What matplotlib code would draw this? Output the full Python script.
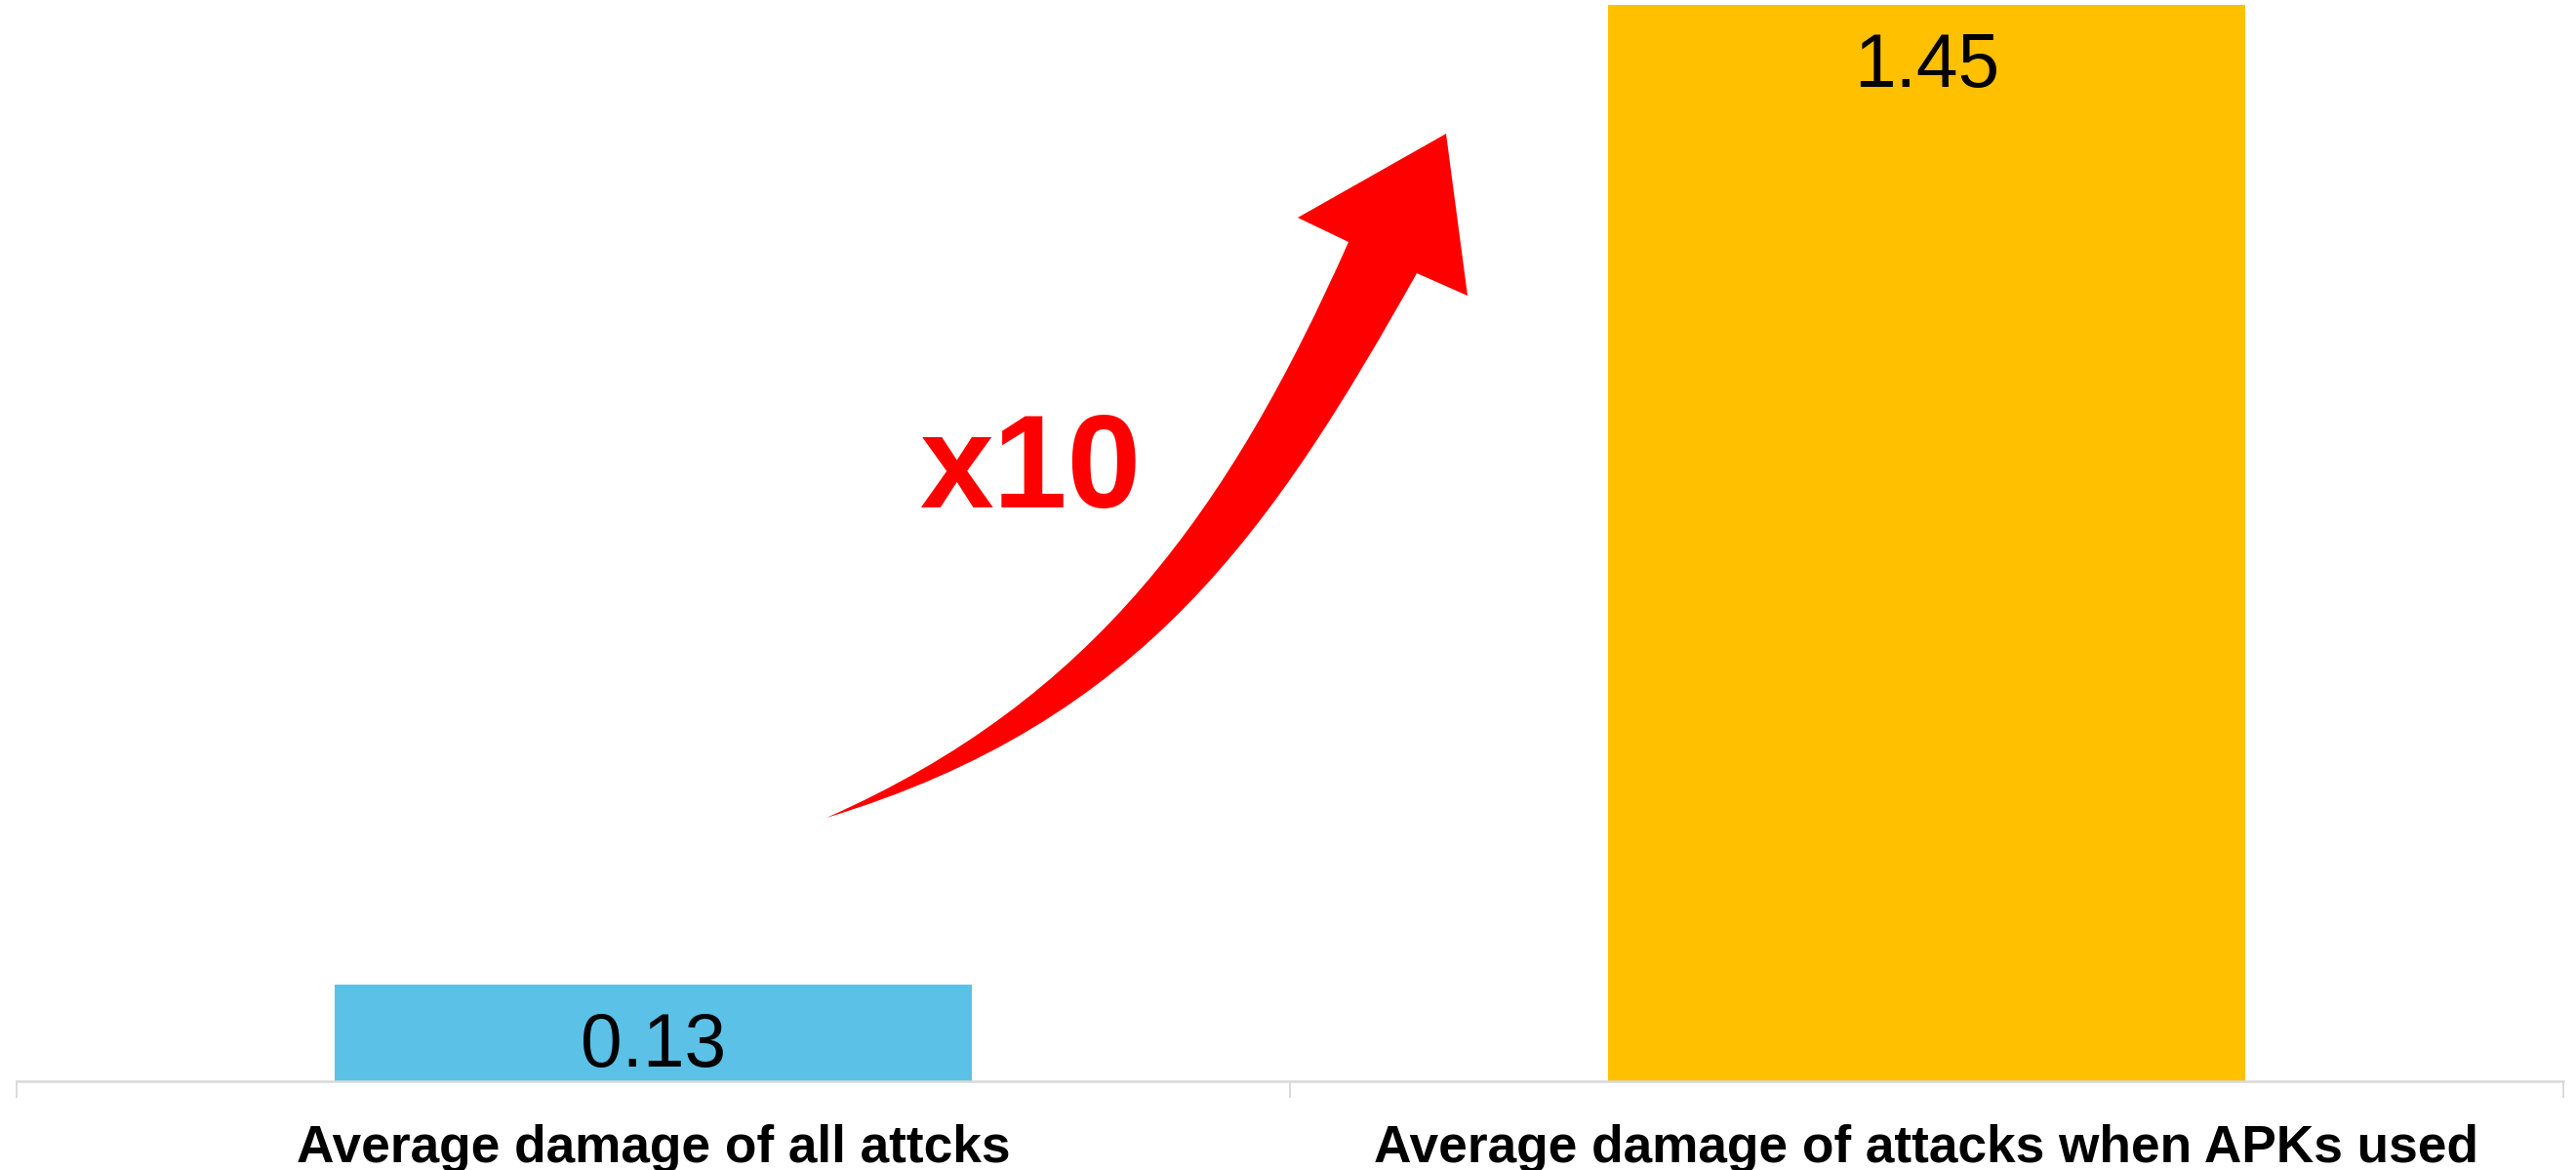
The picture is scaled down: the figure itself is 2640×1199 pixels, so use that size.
import numpy as np
import matplotlib
matplotlib.use("Agg")
import matplotlib.pyplot as plt
from matplotlib.path import Path
from matplotlib.patches import PathPatch

categories = ["Average damage of all attcks", "Average damage of attacks when APKs used"]
values = [0.13, 1.45]
bar_colors = ["#5BC1E6", "#FFC000"]
value_labels = ["0.13", "1.45"]
growth_text = "x10"

plt.rcParams['font.family'] = ['Liberation Sans', 'DejaVu Sans']

W, H = 2640, 1199
fig = plt.figure(figsize=(W / 200, H / 200), dpi=200)
ax = fig.add_axes([17 / W, 1 - 1108 / H, (2627 - 17) / W, (1108 - 5) / H])

x = np.arange(len(values))
ax.bar(x, values, width=0.5, color=bar_colors, zorder=2)
ax.set_xlim(-0.5, len(values) - 0.5)
ax.set_ylim(0, max(values))

for xi, v, lab in zip(x, values, value_labels):
    ax.annotate(lab, xy=(xi, v), xytext=(0, -22.7), textcoords="offset points",
                ha="center", va="center", fontsize=27.6, color="black", zorder=3)

for s in ["top", "right", "left"]:
    ax.spines[s].set_visible(False)
ax.spines["bottom"].set_color("#d9d9d9")
ax.spines["bottom"].set_linewidth(0.9)
ax.set_yticks([])

# boundary ticks (major) and category labels (minor)
ax.set_xticks(np.arange(-0.5, len(values), 1.0))
ax.set_xticklabels([])
ax.tick_params(axis="x", which="major", length=6.1, width=0.7, color="#d9d9d9", direction="out")
ax.set_xticks(x, minor=True)
ax.set_xticklabels(categories, minor=True, fontsize=19.2, fontweight="bold")
ax.tick_params(axis="x", which="minor", length=0, pad=15.8)

# curved red arrow, drawn in figure pixel space (y downward)
def px(p):
    return (p[0] / W, 1 - p[1] / H)

tail = (847, 838)
outer_joint = (1382, 248)
inner_joint = (1452, 280)
head_left = (1330, 223)
head_tip = (1482, 137)
head_right = (1504, 303)

def unit(v):
    v = np.array(v, float)
    return v / np.hypot(*v)

o_c1 = np.array(tail) + 300 * unit((111, -49))
o_c2 = np.array(outer_joint) - 300 * unit((52, -117))
i_c2 = np.array(inner_joint) - 300 * unit((45, -80))
i_c1 = np.array(tail) + 340 * unit((162, -49))

verts = [tail, o_c1, o_c2, outer_joint, head_left, head_tip, head_right,
         inner_joint, i_c2, i_c1, tail, tail]
codes = [Path.MOVETO, Path.CURVE4, Path.CURVE4, Path.CURVE4,
         Path.LINETO, Path.LINETO, Path.LINETO, Path.LINETO,
         Path.CURVE4, Path.CURVE4, Path.CURVE4, Path.CLOSEPOLY]
arrow = PathPatch(Path([px(v) for v in verts], codes), facecolor="#FF0000",
                  edgecolor="none", transform=fig.transFigure)
fig.patches.append(arrow)

fig.text(1056 / W, 1 - 520 / H, growth_text, ha="center", va="baseline",
         fontsize=49, fontweight="bold", color="#FF0000")

fig.savefig("out.png", dpi=200)
